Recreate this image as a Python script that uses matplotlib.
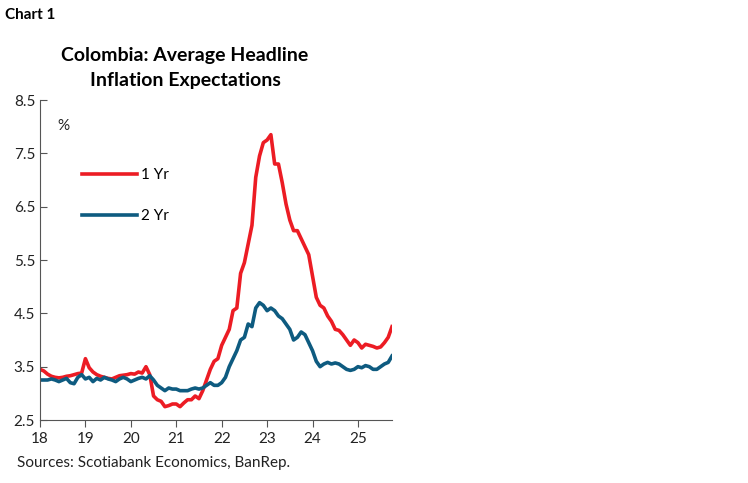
import numpy as np
import matplotlib
matplotlib.use("Agg")
import matplotlib.pyplot as plt

plt.rcParams['font.family'] = ['Lato', 'DejaVu Sans']

# monthly, Jan 2018 .. Oct 2025
yr1 = [3.45, 3.42, 3.36, 3.32, 3.30, 3.29, 3.30, 3.32, 3.33, 3.35, 3.37, 3.38,
       3.65, 3.48, 3.40, 3.35, 3.32, 3.30, 3.28, 3.27, 3.30, 3.33, 3.34, 3.35,
       3.37, 3.36, 3.40, 3.38, 3.50, 3.35, 2.95, 2.88, 2.85, 2.75, 2.77, 2.80,
       2.80, 2.75, 2.82, 2.88, 2.88, 2.95, 2.90, 3.05, 3.25, 3.45, 3.60, 3.65,
       3.90, 4.05, 4.20, 4.55, 4.60, 5.25, 5.45, 5.80, 6.15, 7.05, 7.45, 7.70,
       7.75, 7.85, 7.30, 7.30, 6.95, 6.55, 6.25, 6.05, 6.05, 5.90, 5.75, 5.60,
       5.20, 4.80, 4.65, 4.60, 4.45, 4.35, 4.20, 4.18, 4.10, 4.00, 3.90, 4.00,
       3.95, 3.85, 3.92, 3.90, 3.88, 3.85, 3.87, 3.95, 4.05, 4.25]
yr2 = [3.25, 3.25, 3.25, 3.27, 3.25, 3.22, 3.25, 3.28, 3.20, 3.18, 3.30, 3.35,
       3.27, 3.30, 3.22, 3.28, 3.25, 3.30, 3.27, 3.25, 3.22, 3.27, 3.30, 3.27,
       3.22, 3.25, 3.28, 3.30, 3.27, 3.33, 3.25, 3.15, 3.10, 3.05, 3.10, 3.08,
       3.08, 3.05, 3.05, 3.05, 3.08, 3.10, 3.08, 3.10, 3.15, 3.20, 3.15, 3.15,
       3.20, 3.30, 3.50, 3.65, 3.80, 4.00, 4.05, 4.30, 4.25, 4.60, 4.70, 4.65,
       4.55, 4.60, 4.55, 4.45, 4.40, 4.30, 4.20, 4.00, 4.05, 4.15, 4.10, 3.95,
       3.80, 3.60, 3.50, 3.55, 3.58, 3.55, 3.57, 3.55, 3.50, 3.45, 3.43, 3.45,
       3.50, 3.48, 3.52, 3.50, 3.45, 3.45, 3.50, 3.55, 3.58, 3.70]
x = 2018 + np.arange(len(yr1)) / 12.0
year_ticks = [2018, 2019, 2020, 2021, 2022, 2023, 2024, 2025]
year_labels = ["18", "19", "20", "21", "22", "23", "24", "25"]
y_ticks = [2.5, 3.5, 4.5, 5.5, 6.5, 7.5, 8.5]

fig = plt.figure(figsize=(7.48, 4.83), dpi=100)
ax = fig.add_axes([40/748, 63/483, 352/748, 320/483])
ax.plot(x, yr1, color="#ec1c24", lw=2.6, label="1 Yr")
ax.plot(x, yr2, color="#0e5b80", lw=2.6, label="2 Yr")
ax.set_xlim(2018, 2025.75)
ax.set_ylim(2.5, 8.5)
ax.set_xticks(year_ticks)
ax.set_xticklabels(year_labels)
ax.set_yticks(y_ticks)
ax.set_yticklabels(["%.1f" % v for v in y_ticks])
for s in ["top", "right"]:
    ax.spines[s].set_visible(False)
for s in ["left", "bottom"]:
    ax.spines[s].set_color("#555555")
ax.tick_params(axis="both", labelsize=11, color="#555555", labelcolor="#222222", length=5)
ax.tick_params(axis="y", direction="in")
ax.text(0.05, 0.94, "%", transform=ax.transAxes, fontsize=11, color="#222222", va="top")
ax.legend(loc="upper left", bbox_to_anchor=(0.08, 0.83), frameon=False, fontsize=11,
          handlelength=3.6, handletextpad=0.3, labelspacing=1.75)

fig.text(5/748, 1 - 15/483, "Chart 1", fontsize=11, fontweight="bold", va="center")
fig.text(185/748, 1 - 68/483, "Colombia: Average Headline\nInflation Expectations",
         fontsize=14, fontweight="bold", ha="center", va="center", linespacing=1.6)
fig.text(17/748, 1 - 463/483, "Sources: Scotiabank Economics, BanRep.", fontsize=11,
         color="#222222", va="center")
fig.savefig("out.png", dpi=100)
